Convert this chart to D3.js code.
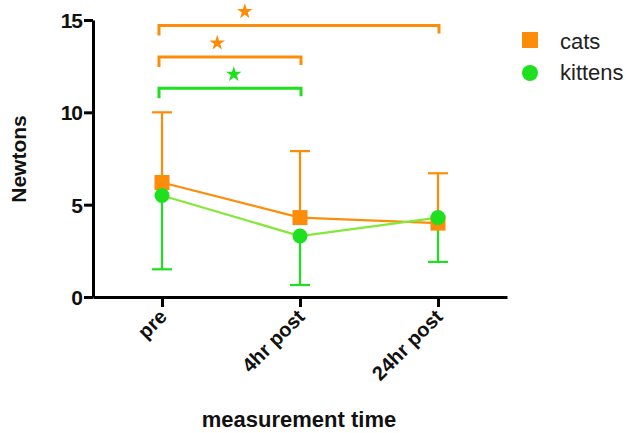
<!DOCTYPE html>
<html>
<head>
    <title>Newtons by measurement time</title>
    <style>
        body { margin: 0; background: #fff; }
        svg text { font-family: "Liberation Sans", Arial, sans-serif; }
        .axis path, .axis line { stroke: #000; stroke-width: 3; }
        .axis text { font-weight: bold; font-size: 21px; fill: #111; }
    </style>
</head>
<body>
    <div id="chart"></div>
    <script src="https://d3js.org/d3.v7.min.js"></script>
    <script>
        // data
        const times = ["pre", "4hr post", "24hr post"];
        const catsMean = [6.2, 4.3, 4.0];
        const catsUpper = [10.0, 7.9, 6.7];
        const kittensMean = [5.5, 3.3, 4.3];
        const kittensLower = [1.5, 0.65, 1.9];
        const yTicks = [0, 5, 10, 15];

        // significance brackets: from / to category index, height, star position (index units)
        const bracketFrom = [0, 0, 0];
        const bracketTo = [2, 1, 1];
        const bracketLevel = [14.7, 13.0, 11.3];
        const bracketStarAt = [0.6, 0.4, 0.52];
        const bracketSeries = ["cats", "cats", "kittens"];

        const orange = "#fd8c08";
        const green = "#1fe01f";
        const greenLine = "#84e838";

        const width = 630, height = 433;
        const svg = d3.select("#chart").append("svg")
            .attr("width", width)
            .attr("height", height);

        const x = d3.scalePoint()
            .domain(times)
            .range([93, 507])
            .padding(0.5);
        const step = x.step();
        const xi = i => x(times[0]) + i * step;

        const y = d3.scaleLinear()
            .domain([0, 15])
            .range([297, 20]);

        // axes
        svg.append("g")
            .attr("class", "axis")
            .attr("transform", "translate(0,297)")
            .call(d3.axisBottom(x).tickSize(10).tickSizeOuter(0).tickFormat(""));

        svg.append("g")
            .attr("class", "axis")
            .attr("transform", "translate(93,0)")
            .call(d3.axisLeft(y).tickValues(yTicks).tickSize(9).tickSizeOuter(0).tickPadding(2))
            .selectAll("text").attr("dy", "0.36em").style("letter-spacing", "-1px");

        // rotated category labels
        svg.append("g").selectAll("text")
            .data(times)
            .join("text")
            .attr("transform", d => "translate(" + (x(d) + 6) + ",318) rotate(-45)")
            .attr("text-anchor", "end")
            .attr("font-weight", "bold")
            .attr("font-size", "20px")
            .attr("fill", "#111")
            .text(d => d);

        // axis titles
        svg.append("text")
            .attr("transform", "translate(26,159) rotate(-90)")
            .attr("text-anchor", "middle")
            .attr("font-weight", "bold")
            .attr("font-size", "21px")
            .attr("fill", "#111")
            .text("Newtons");

        svg.append("text")
            .attr("x", 299)
            .attr("y", 427)
            .attr("text-anchor", "middle")
            .attr("font-weight", "bold")
            .attr("font-size", "22px")
            .attr("fill", "#111")
            .text("measurement time");

        // error bars: cats upward, kittens downward
        function errorBars(means, ends, color) {
            const g = svg.append("g").attr("stroke", color).attr("stroke-width", 2.2);
            g.selectAll("line.v").data(times).join("line")
                .attr("x1", d => x(d)).attr("x2", d => x(d))
                .attr("y1", (d, i) => y(means[i])).attr("y2", (d, i) => y(ends[i]));
            g.selectAll("line.c").data(times).join("line")
                .attr("x1", d => x(d) - 10).attr("x2", d => x(d) + 10)
                .attr("y1", (d, i) => y(ends[i])).attr("y2", (d, i) => y(ends[i]));
        }
        errorBars(catsMean, catsUpper, orange);
        errorBars(kittensMean, kittensLower, green);

        // lines
        const line = d3.line().x((d, i) => x(times[i])).y(d => y(d));
        svg.append("path").datum(catsMean)
            .attr("d", line).attr("fill", "none")
            .attr("stroke", orange).attr("stroke-width", 2.2);
        svg.append("path").datum(kittensMean)
            .attr("d", line).attr("fill", "none")
            .attr("stroke", greenLine).attr("stroke-width", 2.2);

        // markers
        svg.append("g").selectAll("rect").data(catsMean).join("rect")
            .attr("x", (d, i) => x(times[i]) - 7.5)
            .attr("y", d => y(d) - 7.5)
            .attr("width", 15).attr("height", 15)
            .attr("fill", orange);
        svg.append("g").selectAll("circle").data(kittensMean).join("circle")
            .attr("cx", (d, i) => x(times[i]))
            .attr("cy", d => y(d))
            .attr("r", 7.5)
            .attr("fill", green);

        // significance brackets with stars
        const star = d3.symbol().type(d3.symbolStar).size(75);
        bracketLevel.forEach((lvl, k) => {
            const c = bracketSeries[k] === "cats" ? orange : green;
            const x1 = xi(bracketFrom[k]) - 3, x2 = xi(bracketTo[k]) + 1;
            const yy = y(lvl);
            svg.append("path")
                .attr("d", "M" + x1 + "," + (yy + 10) + "V" + yy + "H" + x2 + "V" + (yy + 8))
                .attr("fill", "none")
                .attr("stroke", c)
                .attr("stroke-width", 3);
            svg.append("path")
                .attr("d", star)
                .attr("transform", "translate(" + xi(bracketStarAt[k]) + "," + (yy - 14) + ")")
                .attr("fill", c);
        });

        // legend
        const legend = svg.append("g").attr("transform", "translate(530,0)");
        legend.append("rect")
            .attr("x", -8).attr("y", 32).attr("width", 16).attr("height", 16)
            .attr("fill", orange);
        legend.append("circle")
            .attr("cx", 0).attr("cy", 73).attr("r", 8)
            .attr("fill", green);
        legend.append("text").attr("x", 30).attr("y", 49)
            .attr("font-size", "22px").attr("fill", "#222").text("cats");
        legend.append("text").attr("x", 30).attr("y", 80)
            .attr("font-size", "22px").attr("fill", "#222").text("kittens");
    </script>
</body>
</html>
